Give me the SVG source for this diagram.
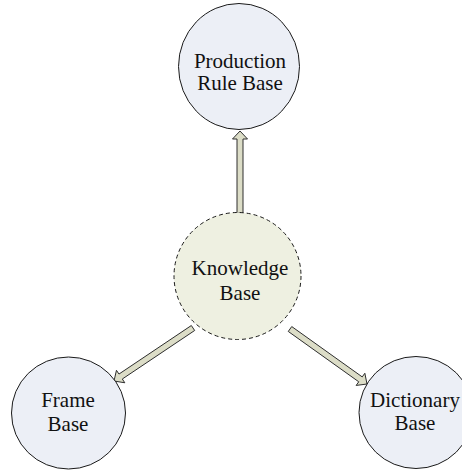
<svg xmlns="http://www.w3.org/2000/svg" width="462" height="470" viewBox="0 0 462 470">
  <style>
    .node { fill: #ECEFF6; stroke: #1a1a1a; stroke-width: 1; }
    .hub { fill: #EEF0E1; stroke: #1a1a1a; stroke-width: 1; stroke-dasharray: 4 3; }
    .arrow { fill: #DCDDC7; stroke: #2e2e2e; stroke-width: 1; stroke-linejoin: miter; }
    .label { font-family: "Liberation Serif", "Times New Roman", serif; font-size: 21px; fill: #111; text-anchor: middle; }
  </style>
  <rect width="462" height="470" fill="#ffffff"/>

  <!-- block arrows from the knowledge base out to each sub-base -->
  <g id="connectors">
    <polygon class="arrow" points="243,213 243,139 247.5,139 240,131 232.5,139 237,139 237,213"/>
    <polygon class="arrow" points="194.67,330.49 122.31,379.03 124.82,382.77 114,381 116.46,370.31 118.97,374.05 191.33,325.51"/>
    <polygon class="arrow" points="288.26,331.44 358.75,381.79 356.13,385.45 367,384 364.85,373.25 362.23,376.91 291.74,326.56"/>
  </g>

  <g id="production-rule-base">
    <ellipse class="node" cx="239" cy="66.5" rx="60.5" ry="63"/>
    <text class="label" x="240" y="68">Production</text>
    <text class="label" x="240" y="90">Rule Base</text>
  </g>

  <g id="knowledge-base">
    <ellipse class="hub" cx="237.5" cy="276" rx="63.5" ry="63.5"/>
    <text class="label" x="240" y="275">Knowledge</text>
    <text class="label" x="240" y="300">Base</text>
  </g>

  <g id="frame-base">
    <ellipse class="node" cx="68.5" cy="413" rx="57" ry="56"/>
    <text class="label" x="68" y="407">Frame</text>
    <text class="label" x="68" y="431">Base</text>
  </g>

  <g id="dictionary-base">
    <ellipse class="node" cx="416" cy="412.5" rx="57" ry="56"/>
    <text class="label" x="415" y="407">Dictionary</text>
    <text class="label" x="415" y="430">Base</text>
  </g>
</svg>
